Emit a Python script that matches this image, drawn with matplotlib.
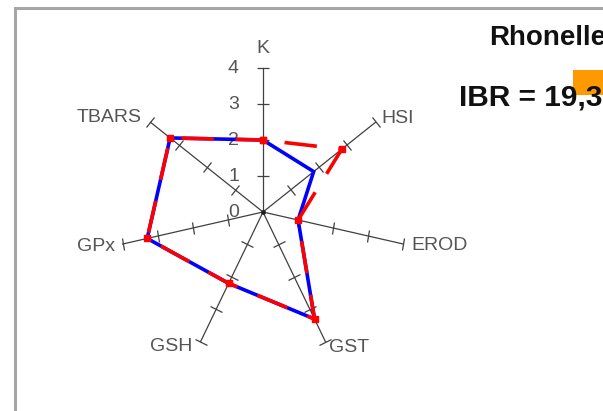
import numpy as np
import matplotlib
matplotlib.use("Agg")
import matplotlib.pyplot as plt
from matplotlib.markers import MarkerStyle
from matplotlib.patches import Rectangle
from matplotlib.transforms import Affine2D

plt.rcParams['font.family'] = ['Liberation Sans', 'DejaVu Sans']

# biomarker scores per axis
categories = ['K', 'HSI', 'EROD', 'GST', 'GSH', 'GPx', 'TBARS']
score_blue = [2.0, 1.8, 1.0, 3.3, 2.2, 3.3, 3.3]
score_red = [2.0, 2.8, 1.0, 3.3, 2.2, 3.3, 3.3]
r_ticks = [0, 1, 2, 3, 4]
title = 'Rhonelle'
ibr_text = 'IBR = 19,3'

# where each axis name sits relative to the end of its spoke (pixels)
label_place = {
    'K': ((0, 20), 'center'),
    'HSI': ((6, 4), 'left'),
    'EROD': ((8, -1), 'left'),
    'GST': ((4, -6), 'left'),
    'GSH': ((-8, -5), 'right'),
    'GPx': ((-8, -2), 'right'),
    'TBARS': ((-9, 5), 'right'),
}

W, H = 603, 411
fig = plt.figure(figsize=(W / 100, H / 100), dpi=100)

# radar area: centre (263, 212) px, 144 px from 0 to 4
cx, cy, rad = 263, 212, 144
ax = fig.add_axes([(cx - rad) / W, (H - cy - rad) / H, 2 * rad / W, 2 * rad / H],
                  projection='polar')
ax.set_theta_zero_location('N')
ax.set_theta_direction(-1)
ax.set_ylim(0, 4)
ax.grid(False)
ax.set_xticks([])
ax.set_yticks([])
ax.spines['polar'].set_visible(False)
ax.patch.set_alpha(0)

n = len(categories)
theta = np.arange(n) * 2 * np.pi / n
axis_col = '#404040'
text_col = '#555555'

for i, name in enumerate(categories):
    ax.plot([theta[i], theta[i]], [0, r_ticks[-1]], color=axis_col, lw=0.9,
            clip_on=False, zorder=2)
    phi = 90 - np.degrees(theta[i])
    mk = MarkerStyle('|', transform=Affine2D().rotate_deg(phi))
    ax.plot([theta[i]] * (len(r_ticks) - 1), r_ticks[1:], ls='none', marker=mk,
            ms=9, mec=axis_col, mew=0.9, clip_on=False, zorder=2)
    off, ha = label_place[name]
    ax.annotate(name, (theta[i], r_ticks[-1]), xytext=off, textcoords='offset pixels',
                ha=ha, va='center', fontsize=14, color=text_col)

ax.plot([0], [0], 'o', ms=2.5, color='#222222', zorder=2)

for r in r_ticks:
    ax.annotate(str(r), (0, r), xytext=(-24, 0), textcoords='offset pixels',
                ha='right', va='center', fontsize=14, color=text_col)

th_closed = np.append(theta, theta[0])
ax.plot(th_closed, score_blue + score_blue[:1], color='#0000ff', lw=2.6,
        solid_joinstyle='miter', zorder=3, clip_on=False)
ax.plot(th_closed, score_red + score_red[:1], color='#ff0000', lw=2.6,
        linestyle=(9.0, (9.0, 6.0)), marker='s', ms=4.5, mec='#ff0000',
        zorder=4, clip_on=False)

# chart frame and the index box
fig.add_artist(Rectangle((15 / W, -0.1), 1.2, 1.1 - 8 / H, transform=fig.transFigure,
                         fill=False, ec='#a6a6a6', lw=2.2, zorder=1))
fig.add_artist(Rectangle((573 / W, 1 - 95 / H), 0.2, 25 / H, transform=fig.transFigure,
                         fc='#ff9900', ec='none', zorder=1))
fig.text(489 / W, 1 - 45 / H, title, fontsize=20, fontweight='bold', color='#111111',
         ha='left', va='baseline', zorder=3)
fig.text(459 / W, 1 - 106 / H, ibr_text, fontsize=21.5, fontweight='bold', color='#111111',
         ha='left', va='baseline', zorder=3)

fig.savefig('out.png', dpi=100)
